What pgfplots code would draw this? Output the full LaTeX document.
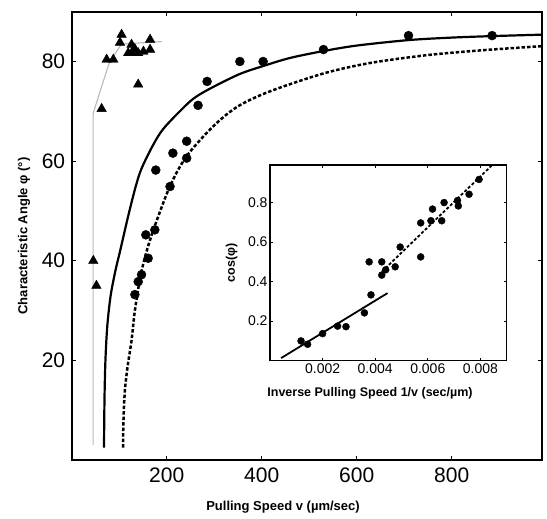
\documentclass[border=0pt]{standalone}
\usepackage{pgfplots}
\pgfplotsset{compat=1.18}
\usepackage{fontspec}
\setmainfont{Liberation Sans}

\begin{document}
\begin{tikzpicture}
% canvas of the reference, in px = pt
\path[use as bounding box] (-71.7pt,-59pt) rectangle (475.3pt,460pt);

\begin{axis}[
  name=main, at={(0pt,0pt)}, anchor=south west,
  scale only axis, width=470.3pt, height=448.3pt,
  xmin=0, xmax=990, ymin=0, ymax=90,
  xtick={200,400,600,800}, xticklabels={200,400,600,800},
  ytick={20,40,60,80}, yticklabels={20,40,60,80},
  tick align=inside, major tick length=4pt,
  tick style={black, line width=1.2pt},
  axis line style={line width=1.8pt},
  tick label style={font=\fontsize{21}{21}\selectfont},
  xticklabel style={yshift=-4pt},
  yticklabel style={xshift=-3pt},
  clip=true,
]
% guide line through the triangles
\addplot[black!28, line width=1.1pt] coordinates {
  (45,3) (45,69.5) (63,75) (80,80) (105,83.5) (190,84)};
% fit, solid
\addplot[black, line width=2.2pt, smooth] coordinates {
  (68,2.5) (69,12) (71,20) (75,27) (82,33) (92,38) (102,42) (119,49)
  (135,55) (147,58.5) (170,63) (193,66.5) (238,71) (263,73) (300,75)
  (354,77.5) (400,79) (459,80.7) (530,82.1) (600,83.2) (709,84.3)
  (800,84.8) (885,85.1) (993,85.4)};
% fit, dashed
\addplot[black, line width=2.5pt, dash pattern=on 3.5pt off 2pt, smooth] coordinates {
  (108,2.5) (109,8) (112,14) (118,19) (126,24) (133,30) (145,37) (158,42)
  (175,47) (207,55) (242,61) (298,67) (350,71) (417,74) (530,77.6)
  (628,79.7) (750,81.3) (870,82.3) (993,83.1)};
% triangles
\addplot[only marks, mark=triangle*, mark size=5.5pt, black] coordinates {
  (45.5,40) (52,35) (63,70.5) (73.6,80.4) (87.6,80.4) (105,85.4) (101.7,83.8)
  (126,83.4) (126,81.7) (140,81.7) (151,82) (165,84.4) (165,82.4) (140,75.4)
  (119,81.7) (133,82.5)};
% circles
\addplot[only marks, mark=*, mark size=4.5pt, black] coordinates {
  (285,76) (266,71.2) (354,80) (403,80) (242,64) (242,60.6) (213,61.6)
  (207,54.9) (177,58.2) (156,45.2) (175,46.2) (161,40.5) (147,37.2)
  (140,35.8) (133,33.2) (530,82.4) (709,85.2) (885,85.2)};
\end{axis}

\node[font=\bfseries\fontsize{13}{13}\selectfont, rotate=90] at (-47.7pt,224pt)
  {Characteristic Angle φ (°)};
\node[font=\bfseries\fontsize{13}{13}\selectfont] at (211.3pt,-47pt)
  {Pulling Speed v (µm/sec)};

\begin{axis}[
  name=inset, at={(198.3pt,99.3pt)}, anchor=south west,
  scale only axis, width=236.7pt, height=195.7pt,
  xmin=0, xmax=0.009, ymin=0, ymax=0.99,
  scaled x ticks=false, scaled y ticks=false,
  xtick={0.002,0.004,0.006,0.008}, xticklabels={0.002,0.004,0.006,0.008},
  ytick={0.2,0.4,0.6,0.8}, yticklabels={0.2,0.4,0.6,0.8},
  tick align=inside, major tick length=3pt,
  tick style={black, line width=1pt},
  axis line style={line width=1.6pt},
  axis background/.style={fill=white},
  tick label style={font=\fontsize{14}{14}\selectfont},
  xticklabel style={yshift=1pt},
  yticklabel style={xshift=1pt},
]
\addplot[black, line width=1.8pt] coordinates {(0.00042,0.013) (0.00447,0.342)};
\addplot[black, line width=1.8pt, dash pattern=on 3pt off 2pt] coordinates {(0.00425,0.45) (0.00845,0.99)};
\addplot[only marks, mark=*, mark size=3.5pt, black] coordinates {
  (0.00118,0.100) (0.00143,0.083) (0.00200,0.137) (0.00257,0.175) (0.00289,0.172)
  (0.00359,0.242) (0.00384,0.333) (0.00377,0.500) (0.00425,0.500) (0.00425,0.433)
  (0.00440,0.460) (0.00476,0.475) (0.00495,0.575) (0.00573,0.525) (0.00573,0.697)
  (0.00618,0.767) (0.00612,0.708) (0.00653,0.708) (0.00662,0.800) (0.00713,0.810)
  (0.00716,0.783) (0.00757,0.842) (0.00795,0.917)};
\end{axis}

\node[font=\bfseries\fontsize{12.5}{12.5}\selectfont, rotate=90] at (160pt,197pt) {cos(φ)};
\node[font=\bfseries\fontsize{12.5}{12.5}\selectfont] at (298.3pt,67pt)
  {Inverse Pulling Speed 1/v (sec/µm)};
\end{tikzpicture}
\end{document}
